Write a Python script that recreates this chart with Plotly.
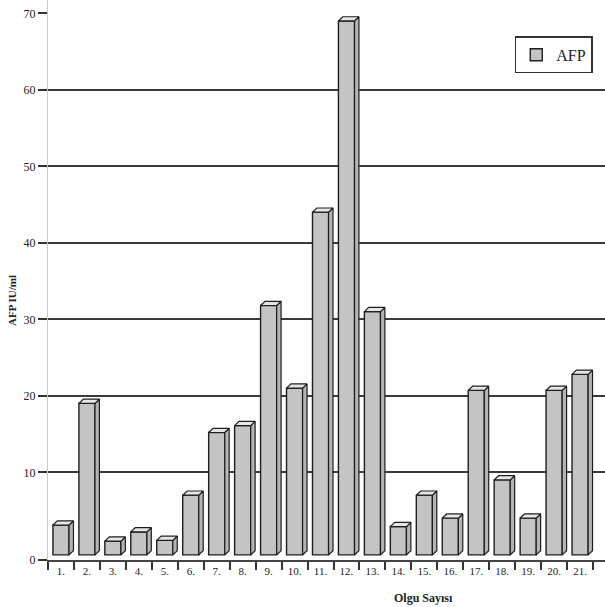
import plotly.graph_objects as go

# AFP values per case
cases = list(range(1, 22))
case_labels = [f"{i}." for i in cases]
afp = [3.9, 19.8, 1.8, 3.0, 1.9, 7.8, 16.0, 16.9, 32.6, 21.8, 44.8,
       69.8, 31.8, 3.7, 7.8, 4.8, 21.5, 9.8, 4.8, 21.5, 23.6]

grid_vals = [10, 20, 30, 40, 50, 60]
tick_vals = [0, 10, 20, 30, 40, 50, 60, 70]

# pseudo-3D geometry (in axis units)
FRONT = -0.78   # front face base, below the back-wall zero
FLOOR = -1.45   # front edge of the floor (x axis line)
BAR_W = 0.62
DX = 0.17       # depth shift to the right
DY = 0.55       # depth shift upwards

FRONT_COL = "#c4c4c4"
TOP_COL = "#e6e6e6"
SIDE_COL = "#b4b4b4"
EDGE = "#1e1e1e"
SERIF = "Liberation Serif, Times New Roman, serif"

fig = go.Figure()

# front faces
fig.add_trace(go.Bar(
    x=cases, y=afp, base=FRONT, width=BAR_W, name="AFP",
    marker=dict(color=FRONT_COL, line=dict(color=EDGE, width=1.4)),
    hoverinfo="skip",
))

# top and side faces built from the same values
top_x, top_y, side_x, side_y = [], [], [], []
for c, v in zip(cases, afp):
    xl, xr = c - BAR_W / 2, c + BAR_W / 2
    yt = FRONT + v
    top_x += [xl, xr, xr + DX, xl + DX, xl, None]
    top_y += [yt, yt, yt + DY, yt + DY, yt, None]
    side_x += [xr, xr + DX, xr + DX, xr, xr, None]
    side_y += [FRONT, FRONT + DY, yt + DY, yt, FRONT, None]

fig.add_trace(go.Scatter(
    x=side_x, y=side_y, mode="lines", fill="toself", fillcolor=SIDE_COL,
    line=dict(color=EDGE, width=1.2), showlegend=False, hoverinfo="skip",
))
fig.add_trace(go.Scatter(
    x=top_x, y=top_y, mode="lines", fill="toself", fillcolor=TOP_COL,
    line=dict(color=EDGE, width=1.2), showlegend=False, hoverinfo="skip",
))

# carrier for the labelled value axis
fig.add_trace(go.Scatter(
    x=[cases[0]], y=[0], yaxis="y2", mode="markers",
    marker=dict(opacity=0), showlegend=False, hoverinfo="skip",
))

y_range = [FLOOR, 71.76]
x_range = [0.5, 21.96]

fig.update_layout(
    width=605, height=607,
    margin=dict(l=48, r=0, t=0, b=47),
    paper_bgcolor="white", plot_bgcolor="white",
    font=dict(family=SERIF, color="#222"),
    xaxis=dict(
        range=x_range, tickmode="array", tickvals=cases, ticktext=case_labels,
        ticks="", showgrid=False, zeroline=False,
        showline=True, linecolor="#444", linewidth=1.5,
        tickfont=dict(family=SERIF, size=11, color="#222"),
        minor=dict(tick0=0.5, dtick=1, ticks="outside", ticklen=8,
                   tickwidth=1.5, tickcolor="#333", showgrid=False),
    ),
    yaxis=dict(
        range=y_range, tickmode="array", tickvals=grid_vals,
        showticklabels=False, ticks="", showline=False, zeroline=False,
        showgrid=True, gridcolor="#3a3a3a", gridwidth=1.8,
    ),
    yaxis2=dict(
        range=y_range, overlaying="y", side="left", tickmode="array",
        tickvals=[FLOOR] + tick_vals[1:], ticktext=[str(t) for t in tick_vals],
        ticks="outside", ticklen=9, tickwidth=1.5, tickcolor="#333",
        showline=True, linecolor="#c8c8c8", linewidth=1,
        showgrid=False, zeroline=False,
        tickfont=dict(family=SERIF, size=12, color="#222"),
    ),
    legend=dict(
        x=0.978, y=0.935, xanchor="right", yanchor="top",
        bgcolor="white", bordercolor="#333", borderwidth=1.5,
        itemwidth=30,
        font=dict(family=SERIF, size=16, color="#222"),
    ),
    annotations=[
        dict(text="<b>Olgu Sayısı</b>", xref="paper", yref="paper",
             x=0.675, y=-0.068, xanchor="center", yanchor="middle",
             showarrow=False,
             font=dict(family=SERIF, size=12, color="#222")),
        dict(text="<b>AFP IU/ml</b>", xref="paper", yref="paper",
             x=-0.065, y=0.464, xanchor="center", yanchor="middle",
             textangle=-90, showarrow=False,
             font=dict(family=SERIF, size=11, color="#222")),
    ],
)

fig.write_html("out.html")
